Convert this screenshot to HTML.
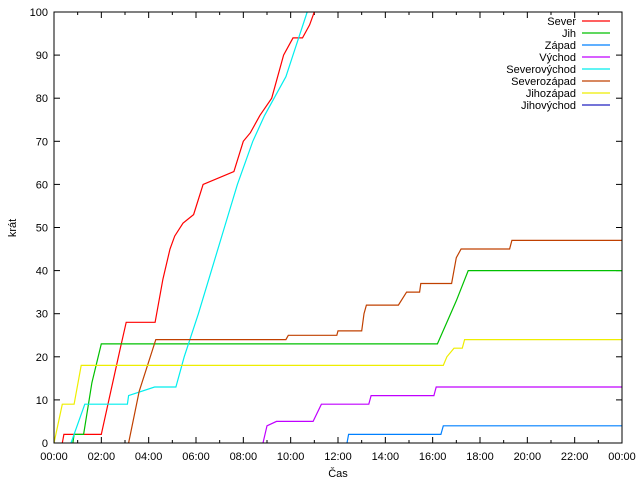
<!DOCTYPE html>
<html><head><meta charset="utf-8"><style>
html,body{margin:0;padding:0;background:#fff}
svg{display:block}
text{font-family:"Liberation Sans","DejaVu Sans",sans-serif;font-size:11px;fill:#000}
</style></head><body>
<svg id="chart" width="640" height="480" viewBox="0 0 640 480">
<rect x="0" y="0" width="640" height="480" fill="#fff"/>
<g id="axes"></g>
<g id="series"></g>
<g id="legend"></g>
<rect x="54" y="12" width="568" height="431" fill="none" stroke="#000" stroke-width="1"/>
<text x="338" y="477" text-anchor="middle">Čas</text>
<text x="16" y="228" text-anchor="middle" transform="rotate(-90 16 228)">krát</text>
</svg>
<script>
const seriesNames = ["Sever","Jih","Západ","Východ","Severovýchod","Severozápad","Jihozápad","Jihovýchod"];
const seriesColors = ["#ff0000","#00c000","#0080ff","#c000ff","#00eeee","#c04000","#eeee00","#2020c0"];
const yTicks = [0,10,20,30,40,50,60,70,80,90,100];
const xTickLabels = ["00:00","02:00","04:00","06:00","08:00","10:00","12:00","14:00","16:00","18:00","20:00","22:00","00:00"];
// hours
const severT = [0.35,0.42,2.0,2.4,2.8,3.05,4.27,4.6,4.9,5.1,5.45,5.9,6.3,7.6,8.0,8.3,8.7,9.2,9.7,10.1,10.5,10.8,11.0];
const severV = [0,2,2,12,22,28,28,38,45,48,51,53,60,63,70,72,76,80,90,94,94,97,100];
const jihT = [0.8,0.85,1.25,1.6,2.0,16.2,16.6,17.0,17.5,24];
const jihV = [0,2,2,14,23,23,28,33,40,40];
const zapadT = [12.38,12.45,16.35,16.45,24];
const zapadV = [0,2,2,4,4];
const vychodT = [8.83,9.0,9.4,10.95,11.3,13.3,13.4,16.05,16.15,24];
const vychodV = [0,4,5,5,9,9,11,11,13,13];
const svT = [0.72,1.3,3.1,3.15,4.25,5.15,5.5,6.1,7.2,7.75,8.4,8.9,9.3,9.8,10.1,10.7];
const svV = [0,9,9,11,13,13,20,30,50,60,70,76,80,85,90,100];
const szT = [3.15,3.6,4.3,9.8,9.9,11.95,12.0,13.0,13.1,13.2,14.55,14.9,15.45,15.5,16.8,17.0,17.2,19.25,19.35,24];
const szV = [0,12,24,24,25,25,26,26,30,32,32,35,35,37,37,43,45,45,47,47];
const jzT = [0.0,0.35,0.85,1.15,16.45,16.6,16.9,17.25,17.35,24];
const jzV = [0,9,9,18,18,20,22,22,24,24];
const jvT = [];
const jvV = [];
const allT = [severT,jihT,zapadT,vychodT,svT,szT,jzT,jvT];
const allV = [severV,jihV,zapadV,vychodV,svV,szV,jzV,jvV];

const X0=54,X1=622,Y0=443,Y1=12;
function xs(h){return X0+(h/24)*(X1-X0);}
function ys(v){return Y0-(v/100)*(Y0-Y1);}
const NS="http://www.w3.org/2000/svg";
const axes=document.getElementById('axes');
function mk(tag,attrs,parent){const e=document.createElementNS(NS,tag);for(const k in attrs)e.setAttribute(k,attrs[k]);parent.appendChild(e);return e;}
yTicks.forEach(v=>{
  const y=ys(v);
  const t1=mk('line',{x1:X0,x2:X0+6,y1:y,y2:y,stroke:'#000'},axes);
  
  
  const t2=mk('line',{x1:X1-6,x2:X1,y1:y,y2:y,stroke:'#000'},axes);
  
  
  const tx=mk('text',{x:X0-6,y:y+4,'text-anchor':'end'},axes);
  tx.textContent=v;
  
  
});
for(let h=0;h<=24;h++){
  const x=xs(h);const len=(h%2===0)?6:3;
  const b=mk('line',{x1:x,x2:x,y1:Y0,y2:Y0-len,stroke:'#000'},axes);
  
  
  const t=mk('line',{x1:x,x2:x,y1:Y1,y2:Y1+len,stroke:'#000'},axes);
  
  
}
xTickLabels.forEach((l,i)=>{
  const tx=mk('text',{x:xs(i*2),y:460,'text-anchor':'middle'},axes);
  tx.textContent=l;
  
  
});
const sg=document.getElementById('series');
allT.forEach((T,i)=>{
  if(!T.length)return;
  const pts=T.map((h,j)=>xs(h).toFixed(1)+','+ys(allV[i][j]).toFixed(1)).join(' ');
  const p=mk('polyline',{points:pts,fill:'none',stroke:seriesColors[i],'stroke-width':1.2},sg);
  
  
});
const lg=document.getElementById('legend');
seriesNames.forEach((n,i)=>{
  const y=21+i*12;
  const tx=mk('text',{x:576,y:y+4,'text-anchor':'end'},lg);
  tx.textContent=n;
  
  
  const ln=mk('line',{x1:582,x2:610,y1:y,y2:y,stroke:seriesColors[i],'stroke-width':1.2},lg);
  
  
});
</script>
</body></html>
